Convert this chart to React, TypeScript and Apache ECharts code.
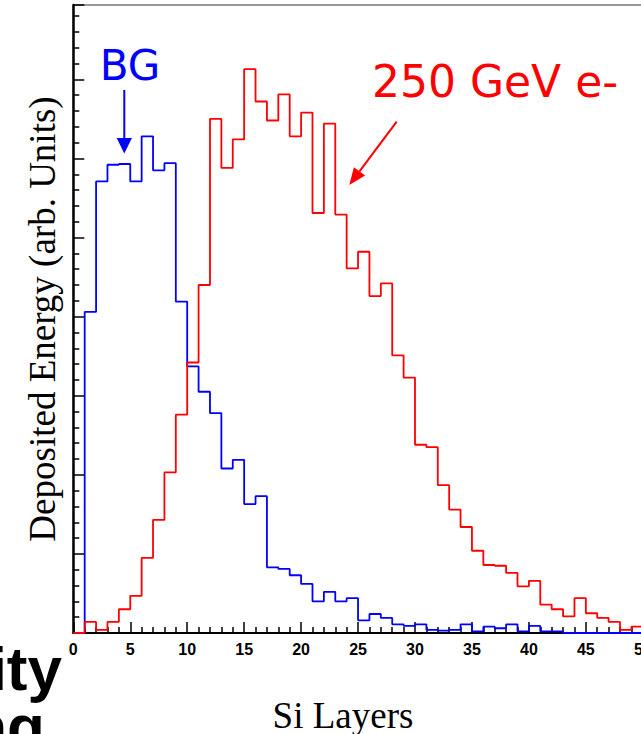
import React, { useEffect, useRef } from "react";
import * as echarts from "echarts";

// Bin left edges (Si layer number)
const siLayers = [
  0, 1, 2, 3, 4, 5, 6, 7, 8, 9, 10, 11, 12, 13, 14, 15, 16, 17, 18, 19, 20, 21, 22, 23, 24,
  25, 26, 27, 28, 29, 30, 31, 32, 33, 34, 35, 36, 37, 38, 39, 40, 41, 42, 43, 44, 45, 46, 47, 48, 49,
];
const lastEdge = 50;

// Background (BG) deposited energy per layer (arb. units)
const bgEnergy = [
  0, 40.6, 57.1, 59.2, 59.3, 57.1, 62.8, 58.5, 59.4, 41.9, 33.7, 30.5, 27.8, 20.8, 21.9, 16.3, 17.3,
  8.3, 8.1, 7.3, 6.2, 4.0, 5.2, 4.0, 4.4, 1.6, 2.4, 1.9, 1.1, 0.9, 1.1, 0.4, 0.3, 0.4, 1.1, 0.2, 0.8,
  0.6, 1.1, 0.2, 0.9, 0.2, 0.2, 0, 0, 0, 0, 0, 0, 0,
];

// 250 GeV electron deposited energy per layer (arb. units)
const electronEnergy = [
  0, 1.4, 0.4, 1.4, 3.0, 4.7, 9.5, 14.3, 20.3, 27.6, 34.2, 44.0, 65.0, 58.8, 62.4, 71.3, 67.2, 64.8,
  68.1, 62.8, 65.8, 53.1, 64.4, 52.9, 46.1, 48.2, 42.6, 44.2, 35.1, 32.3, 23.8, 23.5, 18.7, 15.6, 13.4,
  10.4, 8.6, 8.5, 7.6, 5.9, 6.6, 3.6, 3.0, 2.1, 4.4, 2.5, 1.9, 1.4, 0.4, 0.8,
];

const xMin = 0;
const xMax = 50;
const xInterval = 5;
const yMin = 0;
const yMax = 79.4;
const yInterval = 10;

function stepData(values: number[]) {
  const pts: number[][] = siLayers.map((x, i) => [x, values[i]]);
  pts.push([lastEdge, values[values.length - 1]]);
  pts.push([lastEdge, 0]);
  return pts;
}

export default function App() {
  const ref = useRef<HTMLDivElement>(null);

  useEffect(() => {
    if (!ref.current) return;
    const chart = echarts.init(ref.current, null, { renderer: "svg" });
    const black = "#000000";
    const serif = "'Liberation Serif', 'Times New Roman', serif";
    const sans = "'Liberation Sans', Arial, sans-serif";
    const comic = "'DejaVu Sans', sans-serif";

    chart.setOption({
      animation: false,
      backgroundColor: "#ffffff",
      grid: {
        left: 73.3,
        top: 5,
        width: 569.5,
        height: 628,
        show: true,
        borderColor: "#333333",
        borderWidth: 1,
        backgroundColor: "transparent",
      },
      xAxis: {
        type: "value",
        min: xMin,
        max: xMax,
        interval: xInterval,
        axisLine: { show: true, lineStyle: { color: black, width: 2 } },
        axisTick: { show: true, inside: true, length: 11, lineStyle: { color: black, width: 1.5 } },
        minorTick: { show: true, splitNumber: 5, length: 6, lineStyle: { color: black, width: 1.5 } },
        axisLabel: {
          show: true,
          margin: 8,
          fontFamily: sans,
          fontWeight: "bold",
          fontSize: 16,
          color: black,
        },
        splitLine: { show: false },
        minorSplitLine: { show: false },
      },
      yAxis: {
        type: "value",
        min: yMin,
        max: yMax,
        interval: yInterval,
        name: "Deposited Energy (arb. Units)",
        nameLocation: "middle",
        nameRotate: 90,
        nameGap: 12,
        nameTextStyle: { fontFamily: serif, fontSize: 37, color: black },
        axisLine: { show: true, lineStyle: { color: black, width: 2.5 } },
        axisTick: { show: true, inside: true, length: 11, lineStyle: { color: black, width: 1.5 } },
        minorTick: { show: true, splitNumber: 5, length: 6, lineStyle: { color: black, width: 1.5 } },
        axisLabel: { show: false },
        splitLine: { show: false },
        minorSplitLine: { show: false },
      },
      series: [
        {
          name: "BG",
          type: "line",
          step: "end",
          symbol: "none",
          data: stepData(bgEnergy),
          lineStyle: { color: "#0000ff", width: 1.8 },
          itemStyle: { color: "#0000ff" },
          z: 3,
        },
        {
          name: "250 GeV e-",
          type: "line",
          step: "end",
          symbol: "none",
          data: stepData(electronEnergy),
          lineStyle: { color: "#ff0000", width: 1.8 },
          itemStyle: { color: "#ff0000" },
          z: 4,
        },
      ],
      graphic: [
        {
          type: "text",
          x: 343,
          y: 715,
          style: {
            text: "Si Layers",
            fill: black,
            fontFamily: serif,
            fontSize: 37,
            lineHeight: 36,
            align: "center",
            verticalAlign: "middle",
          },
          z: 10,
        },
        {
          type: "text",
          x: 130,
          y: 65,
          style: {
            text: "BG",
            fill: "#0000ff",
            fontFamily: comic,
            fontSize: 42,
            align: "center",
            verticalAlign: "middle",
          },
          z: 10,
        },
        {
          type: "line",
          shape: { x1: 124.3, y1: 90, x2: 124.3, y2: 140 },
          style: { stroke: "#0000ff", lineWidth: 2 },
          z: 10,
        },
        {
          type: "polygon",
          shape: { points: [[116.7, 138], [131.9, 138], [124.3, 153.5]] },
          style: { fill: "#0000ff" },
          z: 10,
        },
        {
          type: "text",
          x: 495,
          y: 81,
          style: {
            text: "250 GeV e-",
            fill: "#ff0000",
            fontFamily: comic,
            fontSize: 44,
            align: "center",
            verticalAlign: "middle",
          },
          z: 10,
        },
        {
          type: "line",
          shape: { x1: 396.7, y1: 121.7, x2: 359.5, y2: 171.4 },
          style: { stroke: "#ff0000", lineWidth: 2 },
          z: 10,
        },
        {
          type: "polygon",
          shape: { points: [[365.1, 175.6], [353.9, 167.2], [349.3, 185]] },
          style: { fill: "#ff0000" },
          z: 10,
        },
        {
          type: "text",
          x: 62,
          y: 668,
          style: {
            text: "ity",
            fill: black,
            fontFamily: sans,
            fontWeight: "bold",
            fontSize: 62,
            lineHeight: 54,
            align: "right",
            verticalAlign: "middle",
          },
          z: 10,
        },
        {
          type: "text",
          x: 45,
          y: 726,
          style: {
            text: "ng",
            fill: black,
            fontFamily: sans,
            fontWeight: "bold",
            fontSize: 62,
            lineHeight: 54,
            align: "right",
            verticalAlign: "middle",
          },
          z: 10,
        },
      ],
    });

    return () => {
      chart.dispose();
    };
  }, []);

  return (
    <div
      style={{
        position: "fixed",
        left: 0,
        top: 0,
        width: 641,
        height: 734,
        overflow: "hidden",
        background: "#ffffff",
      }}
    >
      <div ref={ref} style={{ width: 700, height: 734 }} />
    </div>
  );
}
